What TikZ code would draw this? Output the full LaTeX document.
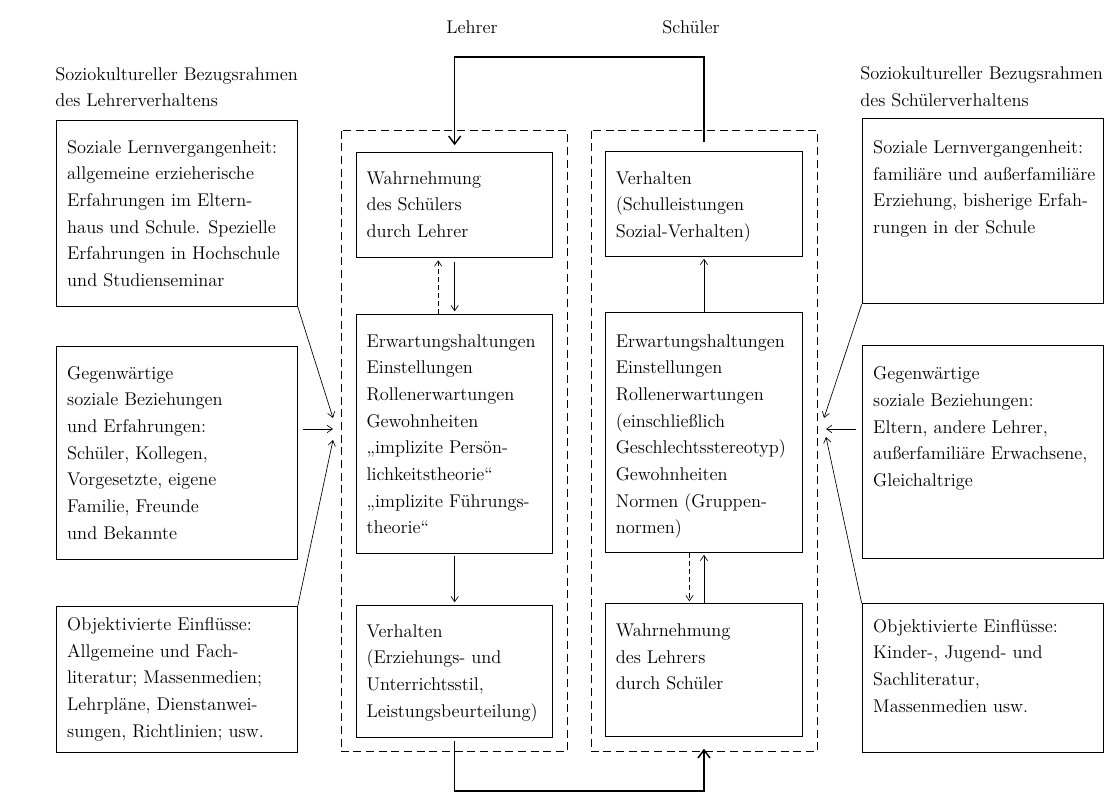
\documentclass[tikz,border=0pt]{standalone}
\usepackage{fontspec}
\usetikzlibrary{arrows.meta}

\newcommand{\boxfont}{\fontsize{13.8}{20}\selectfont}
\newcommand{\sidew}{164.25pt}
\newcommand{\midw}{132.2pt}
\newcommand{\cell}[4][10.5pt]{\parbox[t][#3][t]{#2}{\raggedright\vspace*{#1}\strut #4}}

\begin{document}
\begin{tikzpicture}[x=0.75pt, y=-0.75pt,
        box/.style={draw, line width=0.8pt, anchor=north west, inner ysep=0pt, inner xsep=8.25pt, font=\boxfont},
        midbox/.style={box, inner xsep=7.5pt},
        head/.style={font=\boxfont, align=left, inner sep=0pt},
        frame/.style={line width=0.7pt, dash pattern=on 6pt off 3.5pt},
        flow/.style={line width=0.5pt, -{Straight Barb[length=4pt,width=5.5pt]}},
        back/.style={flow, dash pattern=on 4pt off 2pt},
        link/.style={line width=1.1pt, -{Straight Barb[length=6pt,width=9pt,line width=1.1pt]}}
    ]
    \useasboundingbox (0,0) rectangle (1113,812);
    \fill[white] (0,0) rectangle (1113,812);

    \node[head] (lehrer) at (472,27) {Lehrer};
    \node[head] (schueler) at (691,27) {Schüler};
    \node[head, anchor=west] (lhead) at (55,87) {Soziokultureller Bezugsrahmen\\des Lehrerverhaltens};
    \node[head, anchor=west] (rhead) at (860,87) {Soziokultureller Bezugsrahmen\\des Schülerverhaltens};

    \node[box] (l1) at (55.7,120) {\cell{\sidew}{139.3pt}{Soziale Lernvergangenheit:\\
        allgemeine erzieherische\\ Erfahrungen im Eltern-\\ haus und Schule. Spezielle\\
        Erfahrungen in Hochschule\\ und Studienseminar}};
    \node[box] (l2) at (55.7,346) {\cell{\sidew}{159.5pt}{Gegenwärtige\\ soziale Beziehungen\\
        und Erfahrungen:\\ Schüler, Kollegen,\\ Vorgesetzte, eigene\\ Familie, Freunde\\ und Bekannte}};
    \node[box] (l3) at (55.7,606) {\cell[4pt]{\sidew}{109.5pt}{Objektivierte Einflüsse:\\
        Allgemeine und Fach-\\ literatur; Massenmedien;\\ Lehrpläne, Dienstanwei-\\
        sungen, Richtlinien; usw.}};

    \node[midbox] (lw) at (356,152.3) {\cell[9.5pt]{\midw}{78.75pt}{Wahrnehmung\\ des Schülers\\ durch Lehrer}};
    \node[midbox] (le) at (356,314) {\cell{\midw}{179.5pt}{Erwartungshaltungen\\ Einstellungen\\
        Rollenerwartungen\\ Gewohnheiten\\ „implizite Persön-\\ lichkeitstheorie“\\
        „implizite Führungs-\\ theorie“}};
    \node[midbox] (lv) at (356,605) {\cell[9.8pt]{\midw}{98.8pt}{Verhalten\\ (Erziehungs- und\\
        Unterrichtsstil,\\ \mbox{Leistungsbeurteilung)}}};

    \node[midbox] (sv) at (605.3,151) {\cell{\midw}{78.5pt}{Verhalten\\ (Schulleistungen\\ Sozial-Verhalten)}};
    \node[midbox] (se) at (605.3,312.3) {\cell[11.8pt]{\midw}{179.6pt}{Erwartungshaltungen\\ Einstellungen\\
        Rollenerwartungen\\ (einschließlich\\ \mbox{Geschlechtsstereotyp)}\\ Gewohnheiten\\
        Normen (Gruppen-\\ normen)}};
    \node[midbox] (sw) at (605.3,603.3) {\cell{\midw}{99.3pt}{Wahrnehmung\\ des Lehrers\\ durch Schüler}};

    \node[box] (r1) at (861.7,118.3) {\cell[12pt]{\sidew}{138.75pt}{Soziale Lernvergangenheit:\\
        \mbox{familiäre und außerfamiliäre}\\ Erziehung, bisherige Erfah-\\ rungen in der Schule}};
    \node[box] (r2) at (861.7,345) {\cell[11.7pt]{\sidew}{159.5pt}{Gegenwärtige\\ soziale Beziehungen:\\
        Eltern, andere Lehrer,\\ \mbox{außerfamiliäre Erwachsene,}\\ Gleichaltrige}};
    \node[box] (r3) at (861.7,603.3) {\cell[7.3pt]{\sidew}{111.7pt}{Objektivierte Einflüsse:\\
        Kinder-, Jugend- und\\ Sachliteratur,\\ Massenmedien usw.}};

    \draw[frame] (341,130.7) rectangle (567.3,751.7);
    \draw[frame] (591,130.7) rectangle (817.3,751.7);

    \coordinate (lin1) at (333,418);
    \coordinate (lin2) at (333,429);
    \coordinate (lin3) at (333,440);
    \coordinate (rin1) at (824,418);
    \coordinate (rin2) at (826,429);
    \coordinate (rin3) at (826,437);
    \coordinate (topy) at (0,57);
    \coordinate (boty) at (0,791);

    \draw[flow] (l1.south east) -- (lin1);
    \draw[flow, shorten <=4pt] (l2.east |- lin2) -- (lin2);
    \draw[flow] (l3.north east) -- (lin3);
    \draw[flow] (r1.south west) -- (rin1);
    \draw[flow, shorten <=4pt] (r2.west |- rin2) -- (rin2);
    \draw[flow] (r3.north west) -- (rin3);

    \draw[flow, shorten <=2.5pt, shorten >=2pt] (lw.south) -- (le.north);
    \draw[back, shorten >=1.5pt] ([xshift=-12.4pt]le.north) -- ([xshift=-12.4pt]lw.south);
    \draw[flow, shorten <=1.5pt, shorten >=2pt] (le.south) -- (lv.north);
    \draw[flow, shorten >=1.5pt] (se.north) -- (sv.south);
    \draw[back, shorten >=1.5pt] ([xshift=-10.9pt]se.south) -- ([xshift=-10.9pt]sw.north);
    \draw[flow, shorten >=1.5pt] (sw.north) -- (se.south);

    \draw[link, shorten <=6.4pt, shorten >=5.3pt] (sv.north) -- (sv.north |- topy) -- (lw.north |- topy) -- (lw.north);
    \draw[link, shorten <=2.5pt, shorten >=9pt] (lv.south) -- (lv.south |- boty) -- (sw.south |- boty) -- (sw.south);
\end{tikzpicture}
\end{document}
